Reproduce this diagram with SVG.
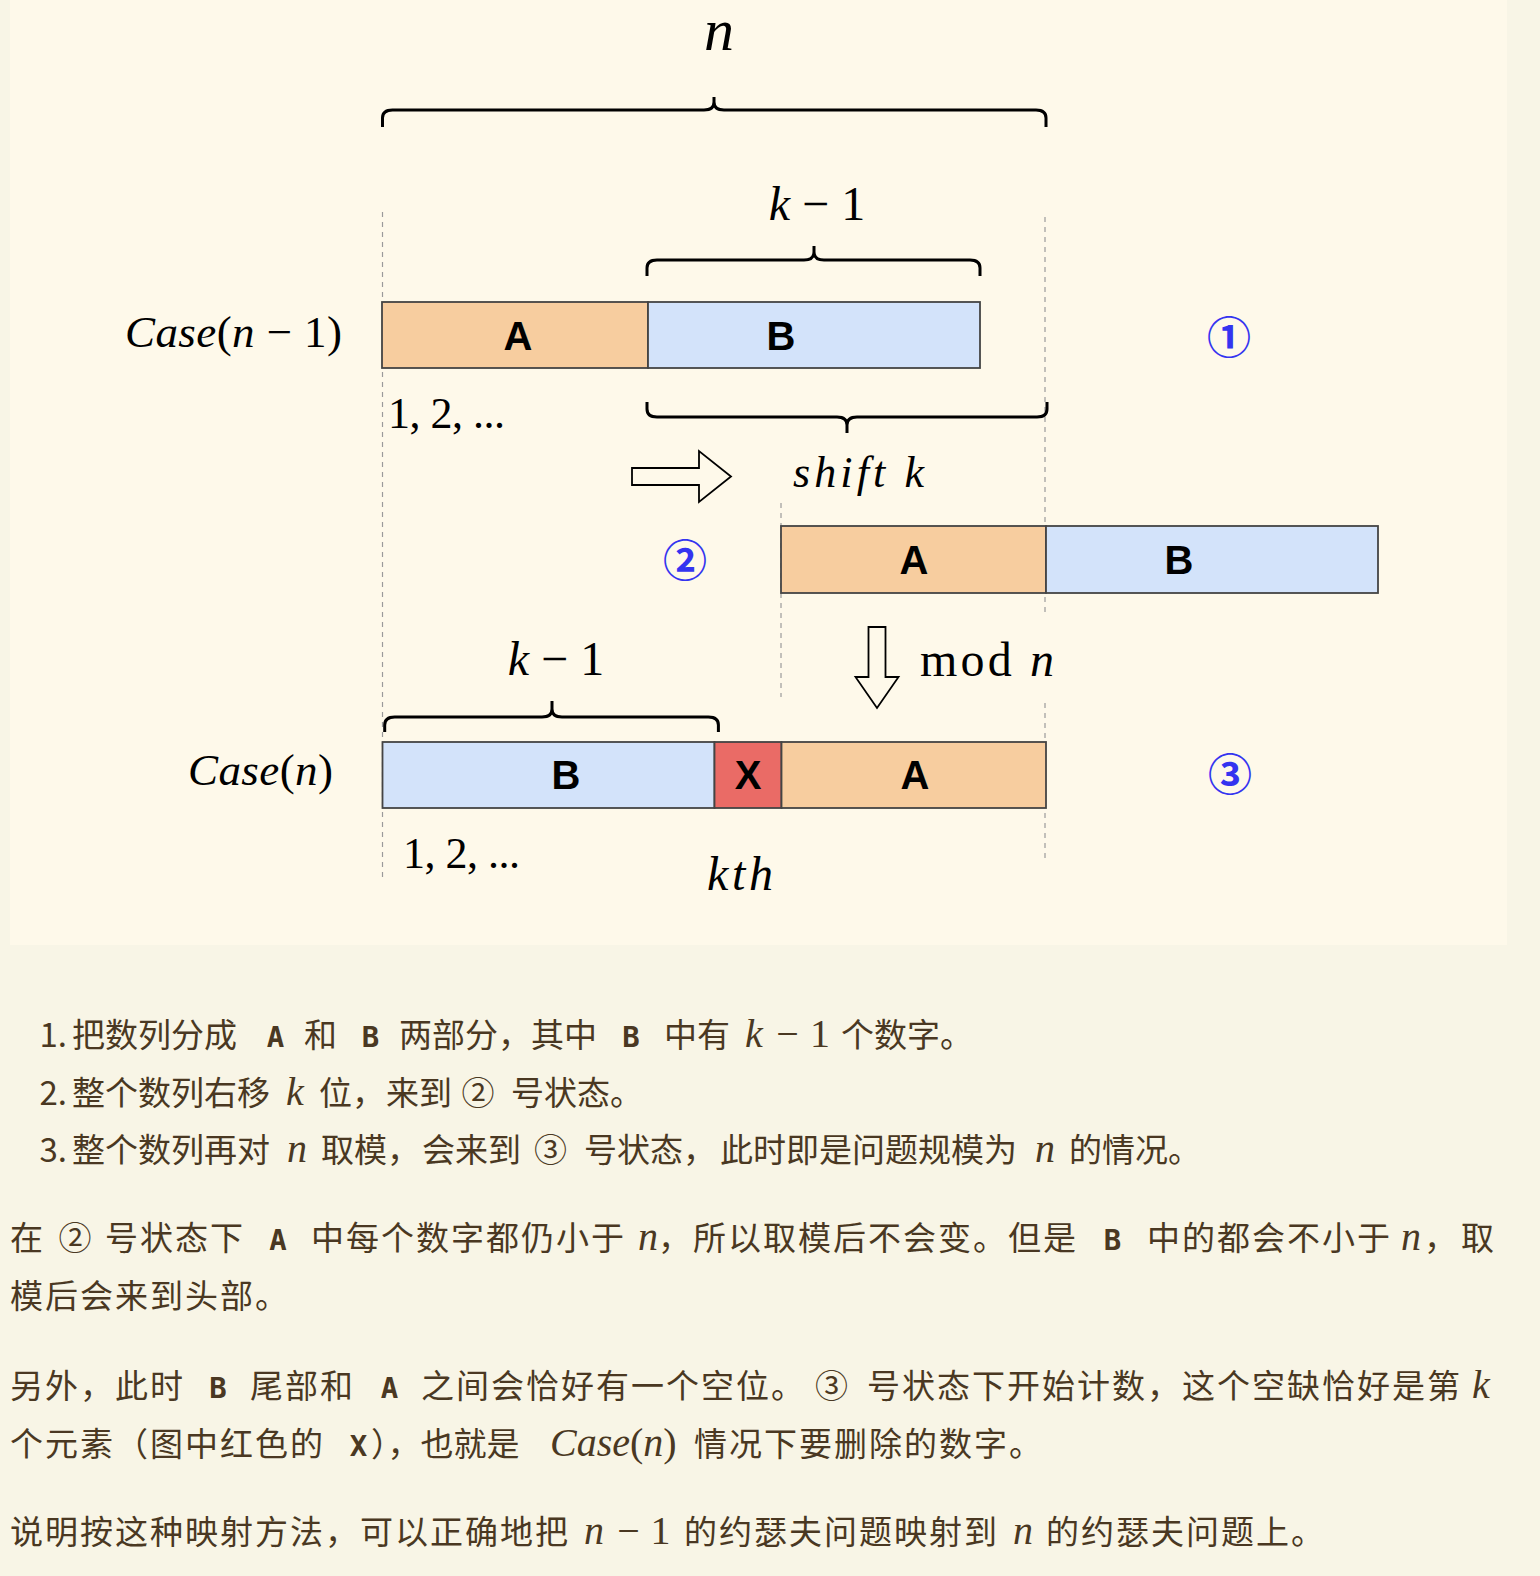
<svg xmlns="http://www.w3.org/2000/svg" width="1540" height="1576" viewBox="0 0 1540 1576">
<defs>
<style>
.m{font-family:"Liberation Serif","Times New Roman",serif;fill:#000}
.it{font-style:italic}
.bl{font-family:"Liberation Sans",Arial,sans-serif;font-weight:bold;font-size:40px;text-anchor:middle;fill:#000}
.circ{font-family:"Noto Sans CJK SC",sans-serif;font-size:44px;font-weight:bold;fill:#3434f0;text-anchor:middle}
.dash{stroke:#9a9a9a;stroke-width:1.2;stroke-dasharray:5 5;fill:none}
.brace{stroke:#000;stroke-width:3;fill:none}
.box{stroke:#444;stroke-width:1.8}
.ca{fill:#f7cd9f}
.cb{fill:#d3e3fa}
.cx{fill:#ea6b66}
.arrow{fill:#fef9ea;stroke:#000;stroke-width:1.8;stroke-linejoin:miter}
.t{font-family:"Noto Sans CJK SC","Noto Sans",sans-serif;font-size:33px;fill:#4a3822}
.p{letter-spacing:2px}
.c{font-family:"DejaVu Sans Mono","Liberation Mono",monospace;font-weight:bold;font-size:29px;text-anchor:middle;fill:#4a3822}
.tm{font-family:"Liberation Serif","Times New Roman",serif;font-style:italic;font-size:40px;fill:#4a3822}
.tu{font-family:"Liberation Serif","Times New Roman",serif;font-size:40px;fill:#4a3822;text-anchor:middle}
</style>
</defs>
<rect width="1540" height="1576" fill="#f8f5e6"/>
<rect x="10" y="0" width="1497" height="945" fill="#fef9ea"/>

<g id="guides">
<line class="dash" x1="382.5" y1="212" x2="382.5" y2="882"/>
<line class="dash" x1="1045" y1="217" x2="1045" y2="615"/>
<line class="dash" x1="1045" y1="703" x2="1045" y2="858"/>
<line class="dash" x1="781" y1="503" x2="781" y2="697"/>
</g>

<g id="braces">
<path id="brace-n" class="brace" d="M382.5 127 L382.5 118 Q382.5 110 392.5 110 L704 110 Q714 110 714 102 L714 97 M714 102 Q714 110 724 110 L1036 110 Q1046 110 1046 118 L1046 127"/>
<path id="brace-k1-top" class="brace" d="M647 276 L647 268 Q647 260 657 260 L804 260 Q814 260 814 252 L814 246 M814 252 Q814 260 824 260 L970 260 Q980 260 980 268 L980 276"/>
<path id="brace-shift" class="brace" d="M647 402 L647 409 Q647 417 657 417 L837 417 Q847 417 847 425 L847 433 M847 425 Q847 417 857 417 L1037 417 Q1047 417 1047 409 L1047 402"/>
<path id="brace-k1-bottom" class="brace" d="M384.7 732 L384.7 725 Q384.7 717 394.7 717 L542 717 Q552 717 552 709 L552 701 M552 709 Q552 717 562 717 L708.4 717 Q718.4 717 718.4 725 L718.4 732"/>
</g>

<g id="case-n-minus-1">
<rect class="box ca" x="382" y="302" width="266" height="66"/>
<rect class="box cb" x="648" y="302" width="332" height="66"/>
<text class="bl" x="518" y="350">A</text>
<text class="bl" x="781" y="350">B</text>
</g>

<g id="shifted">
<rect class="box ca" x="781" y="526" width="265" height="67"/>
<rect class="box cb" x="1046" y="526" width="332" height="67"/>
<text class="bl" x="914" y="574">A</text>
<text class="bl" x="1179" y="574">B</text>
</g>

<g id="case-n">
<rect class="box cb" x="382.5" y="742" width="332" height="66"/>
<rect class="box cx" x="714.5" y="742" width="67" height="66"/>
<rect class="box ca" x="781.5" y="742" width="264.5" height="66"/>
<text class="bl" x="566" y="789">B</text>
<text class="bl" x="748" y="789">X</text>
<text class="bl" x="915" y="789">A</text>
</g>

<g id="connectors">
<polygon id="arrow-shift" class="arrow" points="632,468 699,468 699,451 731,476.5 699,502 699,485 632,485"/>
<polygon id="arrow-mod" class="arrow" points="868.5,627 885.5,627 885.5,677 898.5,677 877,708 855.5,677 868.5,677"/>
</g>

<g id="labels">
<text class="m it" x="719" y="50" font-size="60" text-anchor="middle">n</text>
<text class="m" x="817" y="220" font-size="48" text-anchor="middle"><tspan font-style="italic">k</tspan> − 1</text>
<text class="m" x="125" y="347" font-size="45" textLength="217"><tspan font-style="italic">Case</tspan>(<tspan font-style="italic">n</tspan> − 1)</text>
<text class="m" x="388" y="428" font-size="44" textLength="117">1, 2, ...</text>
<text class="m it" x="793" y="487" font-size="44" textLength="131">shift k</text>
<text class="m" x="920" y="676" font-size="48" textLength="134">mod <tspan font-style="italic">n</tspan></text>
<text class="m" x="556" y="675" font-size="48" text-anchor="middle"><tspan font-style="italic">k</tspan> − 1</text>
<text class="m" x="188" y="785" font-size="45" textLength="145"><tspan font-style="italic">Case</tspan>(<tspan font-style="italic">n</tspan>)</text>
<text class="m" x="403" y="868" font-size="44" textLength="117">1, 2, ...</text>
<text class="m it" x="707" y="890" font-size="48" textLength="66">kth</text>
<text class="circ" x="1229" y="354">①</text>
<text class="circ" x="685" y="577">②</text>
<text class="circ" x="1230" y="791">③</text>
</g>

<g id="explanation">
<g id="list-1">
<text class="t" x="67" y="1047" text-anchor="end">1.</text>
<text class="t" x="72" y="1047">把数列分成</text>
<text class="c" x="275.5" y="1047">A</text>
<text class="t" x="304" y="1047">和</text>
<text class="c" x="370.5" y="1047">B</text>
<text class="t" x="399" y="1047">两部分，其中</text>
<text class="c" x="631" y="1047">B</text>
<text class="t" x="664" y="1047">中有</text>
<text class="tm" x="745" y="1047">k</text>
<text class="tu" x="787.5" y="1047">−</text>
<text class="tu" x="820" y="1047">1</text>
<text class="t" x="841" y="1047">个数字。</text>
</g>
<g id="list-2">
<text class="t" x="67" y="1105" text-anchor="end">2.</text>
<text class="t" x="72" y="1105">整个数列右移</text>
<text class="tm" x="286" y="1105">k</text>
<text class="t" x="319" y="1105">位，</text>
<text class="t" x="386" y="1105">来到</text>
<text class="t" x="478" y="1105" text-anchor="middle">②</text>
<text class="t" x="511" y="1105">号状态。</text>
</g>
<g id="list-3">
<text class="t" x="67" y="1162" text-anchor="end">3.</text>
<text class="t" x="72" y="1162">整个数列再对</text>
<text class="tm" x="287" y="1162">n</text>
<text class="t" x="321" y="1162">取模，</text>
<text class="t" x="422" y="1162">会来到</text>
<text class="t" x="550.5" y="1162" text-anchor="middle">③</text>
<text class="t" x="584" y="1162">号状态，</text>
<text class="t" x="720" y="1162">此时即是问题规模为</text>
<text class="tm" x="1035" y="1162">n</text>
<text class="t" x="1069" y="1162">的情况。</text>
</g>
<g id="para-1">
<text class="t" x="10" y="1250">在</text>
<text class="t" x="75" y="1250" text-anchor="middle">②</text>
<text class="t p" x="105" y="1250">号状态下</text>
<text class="c" x="278" y="1250">A</text>
<text class="t p" x="311" y="1250">中每个数字都仍小于</text>
<text class="tm" x="638" y="1250">n</text>
<text class="t p" x="658" y="1250">，所以取模后不会变。但是</text>
<text class="c" x="1112.5" y="1250">B</text>
<text class="t p" x="1147" y="1250">中的都会不小于</text>
<text class="tm" x="1401" y="1250">n</text>
<text class="t" x="1424" y="1250">，</text>
<text class="t" x="1461" y="1250">取</text>
<text class="t p" x="10" y="1308">模后会来到头部。</text>
</g>
<g id="para-2">
<text class="t p" x="10" y="1398">另外，此时</text>
<text class="c" x="218" y="1398">B</text>
<text class="t p" x="250" y="1398">尾部和</text>
<text class="c" x="389.5" y="1398">A</text>
<text class="t p" x="421" y="1398">之间会恰好有一个空位。</text>
<text class="t" x="831.5" y="1398" text-anchor="middle">③</text>
<text class="t p" x="867" y="1398">号状态下开始计数，这个空缺恰好是第</text>
<text class="tm" x="1472" y="1398">k</text>
<text class="t p" x="10" y="1456">个元素（图中红色的</text>
<text class="c" x="358.5" y="1456">X</text>
<text class="t" x="371" y="1456">），也就是</text>
<text class="tm" x="550" y="1456">Case<tspan font-style="normal">(</tspan>n<tspan font-style="normal">)</tspan></text>
<text class="t p" x="694" y="1456">情况下要删除的数字。</text>
</g>
<g id="para-3">
<text class="t p" x="10" y="1544">说明按这种映射方法，可以正确地把</text>
<text class="tm" x="584" y="1544">n</text>
<text class="tu" x="628.5" y="1544">−</text>
<text class="tu" x="660.5" y="1544">1</text>
<text class="t p" x="684" y="1544">的约瑟夫问题映射到</text>
<text class="tm" x="1013" y="1544">n</text>
<text class="t p" x="1046" y="1544">的约瑟夫问题上。</text>
</g>
</g>
</svg>
